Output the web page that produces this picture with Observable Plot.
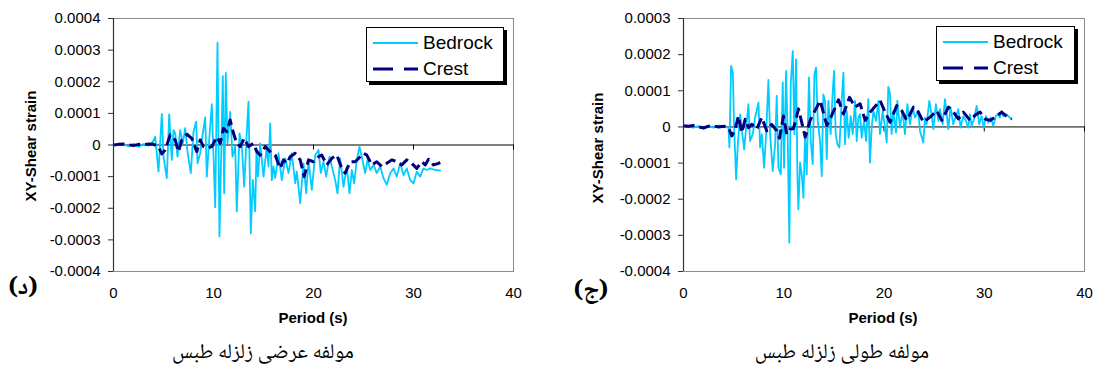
<!DOCTYPE html>
<html>
<head>
<meta charset="utf-8">
<script src="https://cdn.jsdelivr.net/npm/d3@7"></script>
<script src="https://cdn.jsdelivr.net/npm/@observablehq/plot@0.6"></script>
<style>
  body { margin: 0; background: #fff; }
  #root { position: relative; width: 1094px; height: 374px; font-family: Arial, "Liberation Sans", sans-serif; color: #000; }
  svg.chart text { font-size: 15px !important; font-family: Arial, "Liberation Sans", sans-serif !important; fill: #000; }
  .abs { position: absolute; }
  .ytitle { position: absolute; font-weight: bold; font-size: 15px; white-space: nowrap; transform: translate(-50%, -50%) rotate(-90deg); }
  .xtitle { position: absolute; font-weight: bold; font-size: 15px; white-space: nowrap; transform: translate(-50%, -50%); }
  .tag { position: absolute; width: 60px; height: 30px; line-height: 30px; text-align: center; direction: rtl; font-family: "Noto Naskh Arabic", "Amiri", "Times New Roman", "Liberation Serif", "DejaVu Serif", serif; font-weight: bold; font-size: 24px; white-space: nowrap; }
  .caption { position: absolute; width: 320px; height: 24px; line-height: 24px; text-align: center; direction: rtl; font-family: "Noto Naskh Arabic", "Amiri", "Times New Roman", "DejaVu Serif", serif; font-size: 21px; white-space: nowrap; }
  .legend { position: absolute; background: #fff; border: 1px solid #000; box-shadow: 3px 3px 0 #000; box-sizing: border-box; }
  .legend .row { position: absolute; left: 0; height: 22px; }
  .legend .row span { position: absolute; left: 56px; top: 0; line-height: 22px; font-size: 19px; white-space: nowrap; }
</style>
</head>
<body>
<div id="root">
  <div id="leftPlot" class="abs" style="left:0;top:0"></div>
  <div id="rightPlot" class="abs" style="left:547px;top:0"></div>
</div>
<script>
// ---------------- data ----------------
const xTicks = [0, 10, 20, 30, 40];
const yTicksLeft = [-0.0004, -0.0003, -0.0002, -0.0001, 0, 0.0001, 0.0002, 0.0003, 0.0004];
const yTicksRight = [-0.0004, -0.0003, -0.0002, -0.0001, 0, 0.0001, 0.0002, 0.0003];
const seriesNames = ["Bedrock", "Crest"];
const yTitle = "XY-Shear strain";
const xTitle = "Period (s)";
const captionLeft = "مولفه عرضی زلزله طبس";
const captionRight = "مولفه طولی زلزله طبس";
const tagLeft = "(د)";
const tagRight = "(ج)";

// Left panel (transverse component): time (s) and XY shear strain
const leftBedrockTime = [0,0.5,1,1.5,2,2.5,3,3.5,3.9,4.17,4.5,4.83,5.0,5.33,5.57,5.83,6.0,6.17,6.4,6.67,6.93,7.17,7.4,7.73,8.0,8.27,8.4,8.67,8.83,9.17,9.33,9.57,9.83,10.17,10.4,10.6,10.77,10.93,11.07,11.23,11.4,11.67,11.9,12.17,12.33,12.6,12.83,13.07,13.33,13.5,13.73,13.93,14.17,14.3,14.45,14.67,15.0,15.33,15.5,15.67,15.83,16.0,16.17,16.5,16.83,17.17,17.5,17.83,18.17,18.33,18.67,18.83,19.0,19.27,19.5,19.83,20.17,20.5,20.73,21.0,21.27,21.6,21.83,22.17,22.4,22.67,23.0,23.33,23.6,23.83,24.07,24.33,24.6,24.83,25.17,25.4,25.67,26.0,26.33,26.67,27.0,27.33,27.67,28.0,28.33,28.67,29.0,29.33,29.67,30.0,30.33,30.67,31.0,31.33,31.67,32.17,32.67];
const leftBedrockStrain = [0e-4,0.03e-4,0.01e-4,-0.04e-4,0.04e-4,-0.06e-4,0.03e-4,-0.02e-4,0.08e-4,0.26e-4,-0.84e-4,0.98e-4,-0.37e-4,-1.05e-4,0.97e-4,-0.47e-4,0.47e-4,0.37e-4,-0.37e-4,0.47e-4,0.05e-4,0.53e-4,-0.21e-4,-0.89e-4,0.42e-4,0.74e-4,-0.58e-4,-0.26e-4,0.16e-4,0.87e-4,-1.0e-4,0.16e-4,1.29e-4,-1.97e-4,3.24e-4,-2.89e-4,-0.26e-4,2.18e-4,-1.53e-4,2.28e-4,0.05e-4,1.05e-4,-0.37e-4,-0.05e-4,-2.1e-4,0.37e-4,0e-4,-1.32e-4,0.42e-4,1.37e-4,-2.79e-4,-1.1e-4,-2.1e-4,-0.16e-4,-1.0e-4,0.05e-4,-1.0e-4,-0.05e-4,-0.68e-4,0.68e-4,-1.11e-4,-0.68e-4,-1.05e-4,-0.26e-4,-1.11e-4,-0.42e-4,-0.89e-4,-0.26e-4,-1.21e-4,-0.84e-4,-1.84e-4,-1.21e-4,-0.58e-4,-1.53e-4,-0.47e-4,-1.42e-4,-0.32e-4,-0.16e-4,-0.89e-4,-0.53e-4,-1.0e-4,-0.37e-4,-0.68e-4,-1.11e-4,-1.53e-4,-0.42e-4,-1.32e-4,-0.68e-4,-1.53e-4,-0.79e-4,-1.21e-4,-0.47e-4,-0.05e-4,-0.37e-4,-0.89e-4,-0.47e-4,-0.79e-4,-0.63e-4,-0.89e-4,-0.68e-4,-1.05e-4,-1.26e-4,-0.89e-4,-0.74e-4,-1.0e-4,-0.58e-4,-0.95e-4,-0.74e-4,-1.11e-4,-1.21e-4,-0.84e-4,-1.0e-4,-0.74e-4,-0.79e-4,-0.74e-4,-0.79e-4,-0.81e-4];
const leftCrestTime = [0,0.5,1,1.5,2,2.5,3,3.5,4,4.5,4.83,5.17,5.67,6.17,6.5,6.83,7.33,7.83,8.33,8.67,9.0,9.33,9.83,10.33,10.67,11.0,11.33,11.67,12.0,12.33,12.67,13.07,13.5,14.0,14.33,14.67,15.17,15.5,15.83,16.17,16.67,17.0,17.33,17.67,18.17,18.67,19.07,19.5,20.0,20.5,20.83,21.33,21.83,22.33,22.83,23.17,23.67,24.17,24.67,25.0,25.33,25.83,26.33,26.83,27.33,27.83,28.33,28.83,29.33,29.83,30.33,30.83,31.17,31.5,32.0,32.5,32.67];
const leftCrestStrain = [0e-4,0.02e-4,0.03e-4,0.01e-4,-0.02e-4,0.02e-4,0.01e-4,0.03e-4,0.02e-4,-0.05e-4,-0.28e-4,-0.16e-4,0.32e-4,0.16e-4,-0.21e-4,0.16e-4,0.34e-4,0.21e-4,-0.21e-4,0.16e-4,-0.05e-4,-0.1e-4,-0.05e-4,0.26e-4,0.05e-4,0.53e-4,0.42e-4,0.79e-4,0.37e-4,0.05e-4,-0.05e-4,0.21e-4,-0.05e-4,0.05e-4,-0.21e-4,-0.32e-4,-0.05e-4,-0.16e-4,-0.26e-4,-0.32e-4,-0.74e-4,-0.47e-4,-0.58e-4,-0.37e-4,-0.26e-4,-0.47e-4,-1.0e-4,-0.47e-4,-0.53e-4,-0.37e-4,-0.32e-4,-0.63e-4,-0.42e-4,-0.32e-4,-0.74e-4,-0.89e-4,-0.53e-4,-0.53e-4,-0.37e-4,-0.26e-4,-0.32e-4,-0.63e-4,-0.53e-4,-0.68e-4,-0.58e-4,-0.47e-4,-0.53e-4,-0.63e-4,-0.47e-4,-0.58e-4,-0.74e-4,-0.53e-4,-0.63e-4,-0.45e-4,-0.63e-4,-0.58e-4,-0.55e-4];

// Right panel (longitudinal component)
const rightBedrockTime = [0,0.5,1,1.5,2,2.5,3,3.5,4,4.49,4.58,4.75,4.92,5.05,5.25,5.42,5.65,5.81,6.05,6.25,6.48,6.64,6.91,7.14,7.48,7.64,7.81,8.04,8.24,8.47,8.64,8.90,9.14,9.30,9.47,9.70,9.90,10.03,10.23,10.40,10.56,10.70,10.90,11.06,11.23,11.36,11.46,11.63,11.79,11.96,12.13,12.29,12.52,12.69,12.89,13.06,13.22,13.39,13.62,13.79,13.95,14.12,14.29,14.45,14.68,14.88,15.02,15.18,15.35,15.55,15.78,15.95,16.11,16.28,16.48,16.68,16.88,17.11,17.28,17.44,17.61,17.77,18.01,18.21,18.44,18.60,18.77,18.94,19.20,19.44,19.60,19.87,20.10,20.27,20.43,20.60,20.76,20.93,21.20,21.33,21.59,21.86,22.09,22.33,22.59,22.86,23.09,23.42,23.59,23.92,24.09,24.25,24.52,24.75,24.92,25.18,25.42,25.58,25.85,26.08,26.25,26.41,26.64,26.91,27.18,27.41,27.64,27.91,28.17,28.41,28.57,28.74,28.97,29.24,29.50,29.73,29.97,30.17,30.40,30.63,30.90,31.16,31.40,31.56,31.73,31.89,32.23,32.72];
const rightBedrockStrain = [0.03e-4,0.01e-4,-0.02e-4,0.02e-4,-0.04e-4,0.03e-4,-0.02e-4,0.04e-4,0.01e-4,-0.02e-4,-0.57e-4,1.69e-4,1.50e-4,-0.02e-4,-1.45e-4,-0.48e-4,0.35e-4,-0.06e-4,-0.62e-4,-0.02e-4,0.63e-4,-0.39e-4,-0.20e-4,0.26e-4,0.67e-4,-0.57e-4,-0.20e-4,-1.13e-4,-0.20e-4,1.30e-4,-0.20e-4,-1.22e-4,-0.48e-4,0.86e-4,-1.13e-4,-1.31e-4,1.23e-4,-1.13e-4,1.55e-4,-0.39e-4,-3.20e-4,1.18e-4,2.10e-4,-0.20e-4,1.87e-4,-1.31e-4,-2.28e-4,-0.99e-4,-1.31e-4,-1.96e-4,-0.20e-4,-1.31e-4,1.37e-4,-0.39e-4,-1.03e-4,1.46e-4,1.64e-4,0.17e-4,-0.39e-4,-1.36e-4,0.90e-4,0.72e-4,-0.89e-4,0.72e-4,-0.20e-4,0.95e-4,1.55e-4,-0.20e-4,-0.48e-4,-0.57e-4,0.72e-4,1.50e-4,-0.48e-4,0.44e-4,-0.30e-4,0.30e-4,-0.20e-4,0.72e-4,-0.39e-4,0.26e-4,0.35e-4,-0.30e-4,0.17e-4,-0.39e-4,0.77e-4,-0.99e-4,-0.02e-4,0.44e-4,0.17e-4,0.72e-4,-0.20e-4,0.44e-4,-0.02e-4,-0.43e-4,1.11e-4,0.90e-4,-0.20e-4,0.44e-4,-0.16e-4,0.72e-4,-0.02e-4,0.44e-4,-0.20e-4,0.63e-4,0.07e-4,0.54e-4,0.26e-4,0.44e-4,-0.11e-4,-0.43e-4,0.26e-4,0.07e-4,0.72e-4,0.35e-4,-0.06e-4,0.63e-4,0.17e-4,0.49e-4,0.07e-4,0.77e-4,0.40e-4,-0.06e-4,0.54e-4,0.07e-4,0.30e-4,0.49e-4,-0.02e-4,0.30e-4,0.17e-4,-0.02e-4,0.35e-4,0.03e-4,0.21e-4,0.58e-4,0.07e-4,0.30e-4,-0.02e-4,0.30e-4,0.12e-4,0.26e-4,0.03e-4,0.30e-4,0.35e-4,0.26e-4,0.44e-4,0.30e-4,0.35e-4,0.21e-4];
const rightCrestTime = [0,0.5,1,1.5,2,2.5,3,3.5,4,4.49,4.82,5.15,5.48,5.81,6.15,6.48,6.81,7.31,7.81,8.31,8.80,9.30,9.57,9.97,10.30,10.63,10.97,11.47,12.14,12.63,13.63,14.30,14.79,15.46,15.96,16.56,17.12,17.62,18.12,18.62,19.61,20.11,20.61,21.27,21.77,22.27,22.94,23.43,23.93,24.60,25.26,25.76,26.43,26.92,27.42,27.92,28.59,29.08,29.58,30.08,30.58,31.08,31.74,32.24,32.74];
const rightCrestStrain = [0.03e-4,0.02e-4,0.04e-4,0e-4,-0.03e-4,0.02e-4,0.03e-4,0e-4,0.02e-4,-0.02e-4,-0.25e-4,-0.06e-4,0.30e-4,-0.16e-4,0.21e-4,-0.02e-4,0.07e-4,-0.06e-4,0.26e-4,-0.11e-4,0.07e-4,-0.11e-4,-0.31e-4,0.30e-4,-0.20e-4,-0.06e-4,-0.05e-4,0.50e-4,-0.28e-4,0.18e-4,0.73e-4,0.04e-4,0.32e-4,0.75e-4,0.36e-4,0.82e-4,0.55e-4,0.64e-4,0.18e-4,0.41e-4,0.73e-4,0.41e-4,0.13e-4,0.59e-4,0.45e-4,0.18e-4,0.55e-4,0.41e-4,0.13e-4,0.27e-4,0.45e-4,0.18e-4,0.55e-4,0.41e-4,0.22e-4,0.41e-4,0.18e-4,0.32e-4,0.41e-4,0.22e-4,0.18e-4,0.27e-4,0.41e-4,0.29e-4,0.22e-4];

// ---------------- drawing ----------------
const colors = { Bedrock: "#00CCFF", Crest: "#000080" };
const fmtY = d => Math.abs(d) < 1e-12 ? "0" : d.toFixed(4);
const toRows = (T, V) => T.map((t, i) => ({ t, v: V[i] }));

function panel(opts) {
  const bed = toRows(opts.bedT, opts.bedV);
  const cr = toRows(opts.crT, opts.crV);
  const svg = Plot.plot({
    className: "chart",
    width: 547,
    height: 340,
    marginLeft: opts.ml,
    marginRight: opts.mr,
    marginTop: 18,
    marginBottom: 69,
    style: "font-family: Arial, 'Liberation Sans', sans-serif; font-size: 15px; color: #000; background: transparent; overflow: visible;",
    x: { domain: [0, 40] },
    y: { domain: opts.yDomain },
    marks: [
      Plot.frame({ stroke: "#8c8c8c" }),
      Plot.ruleY([0], { stroke: "#000", strokeWidth: 1 }),
      Plot.ruleX(xTicks, { x: d => d, y1: 0, y2: 0, insetBottom: -5, stroke: "#000" }),
      Plot.line(bed, { x: "t", y: "v", stroke: colors.Bedrock, strokeWidth: 1.8 }),
      Plot.line(cr, { x: "t", y: "v", stroke: colors.Crest, strokeWidth: 3, strokeDasharray: "11,5", strokeLinecap: "butt" }),
      Plot.ruleX([0], { stroke: "#333", strokeWidth: 1.2 }),
      Plot.axisY(opts.yTicks, { tickSize: 5, tickPadding: 8, tickFormat: fmtY, label: null, stroke: "#333", fontSize: 15 }),
      Plot.axisX(xTicks, { tickSize: 0, tickPadding: 16, tickFormat: d => String(d), label: null, fontSize: 15 })
    ]
  });
  svg.classList.add("chart");
  return svg;
}

document.getElementById("leftPlot").append(panel({
  bedT: leftBedrockTime, bedV: leftBedrockStrain, crT: leftCrestTime, crV: leftCrestStrain,
  yDomain: [-0.0004, 0.0004], yTicks: yTicksLeft, ml: 113, mr: 34
}));
document.getElementById("rightPlot").append(panel({
  bedT: rightBedrockTime, bedV: rightBedrockStrain, crT: rightCrestTime, crV: rightCrestStrain,
  yDomain: [-0.0004, 0.0003], yTicks: yTicksRight, ml: 136, mr: 10
}));

// ---------------- texts & legends ----------------
const root = document.getElementById("root");
function addDiv(cls, css, text) {
  const d = document.createElement("div");
  d.className = cls;
  Object.assign(d.style, css);
  d.textContent = text;
  root.append(d);
  return d;
}
function addLegend(x, y, w, h) {
  const box = document.createElement("div");
  box.className = "legend";
  Object.assign(box.style, { left: x + "px", top: y + "px", width: w + "px", height: h + "px" });
  const rowsY = [4, 30];
  const svgNS = "http://www.w3.org/2000/svg";
  seriesNames.forEach((name, i) => {
    const row = document.createElement("div");
    row.className = "row";
    row.style.top = rowsY[i] + "px";
    row.style.width = w + "px";
    const svg = document.createElementNS(svgNS, "svg");
    svg.setAttribute("width", 60); svg.setAttribute("height", 22);
    svg.style.position = "absolute"; svg.style.left = "0px"; svg.style.top = "0px";
    const ln = document.createElementNS(svgNS, "line");
    ln.setAttribute("x1", 6); ln.setAttribute("x2", 51); ln.setAttribute("y1", 11); ln.setAttribute("y2", 11);
    ln.setAttribute("stroke", colors[name]);
    ln.setAttribute("stroke-width", name === "Crest" ? 3 : 1.8);
    if (name === "Crest") ln.setAttribute("stroke-dasharray", "20,11");
    svg.append(ln);
    const sp = document.createElement("span");
    sp.textContent = name;
    row.append(svg, sp);
    box.append(row);
  });
  root.append(box);
}

addLegend(366, 27, 138, 55);
addLegend(936, 26, 139, 55);

addDiv("ytitle", { left: "30px", top: "146px" }, yTitle);
addDiv("ytitle", { left: "597px", top: "148px" }, yTitle);
addDiv("xtitle", { left: "313px", top: "317px" }, xTitle);
addDiv("xtitle", { left: "883px", top: "317px" }, xTitle);
addDiv("tag", { left: (23 - 30) + "px", top: (289 - 15) + "px" }, tagLeft);
addDiv("tag", { left: (591 - 30) + "px", top: (292 - 15) + "px" }, tagRight);
addDiv("caption", { left: (263 - 160) + "px", top: (354 - 12) + "px" }, captionLeft);
addDiv("caption", { left: (842 - 160) + "px", top: (354 - 12) + "px" }, captionRight);
</script>
</body>
</html>
